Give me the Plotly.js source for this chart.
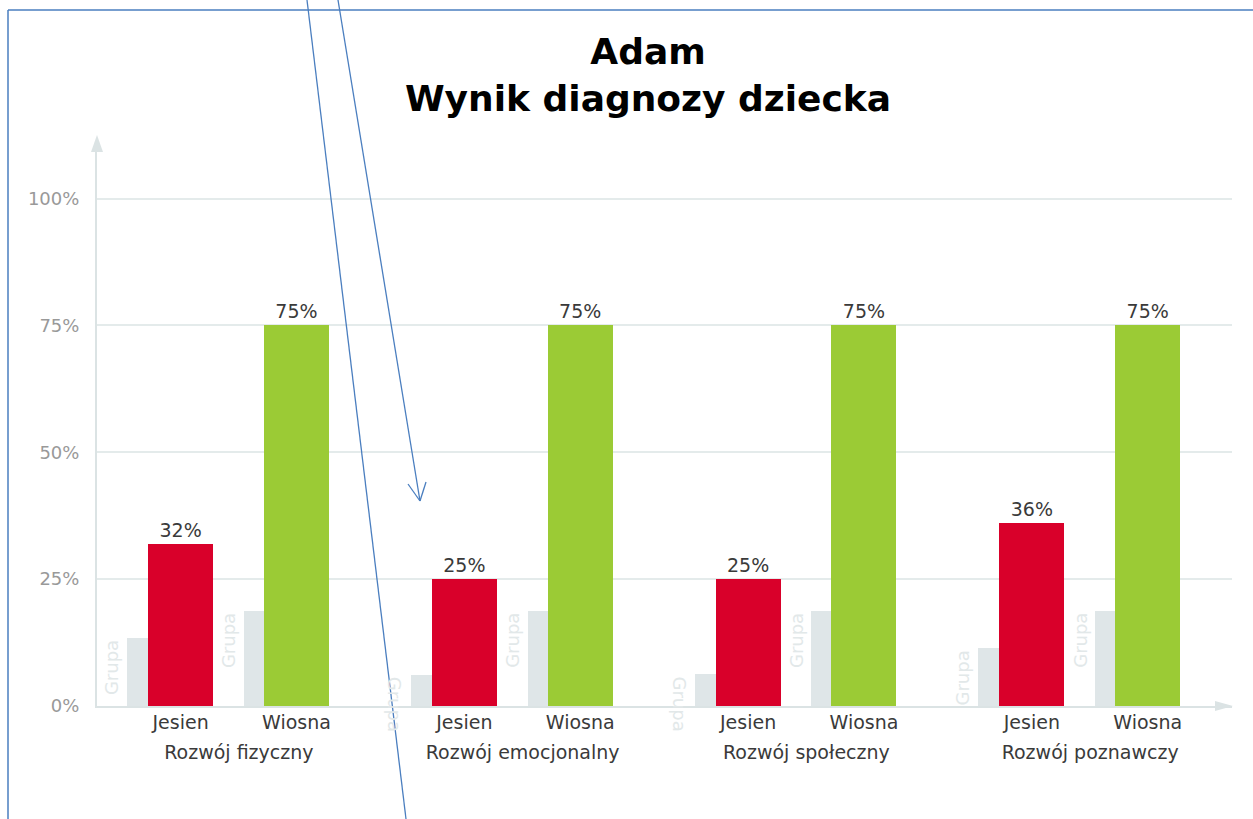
<!DOCTYPE html>
<html><head><meta charset="utf-8">
<script src="https://cdn.plot.ly/plotly-3.0.1.min.js"></script>
<style>html,body{margin:0;padding:0;background:#fff}#chart{width:1253px;height:819px}</style>
</head><body><div id="chart"></div>
<script>
// ---- data ----
const categories = ['Rozwój fizyczny', 'Rozwój emocjonalny', 'Rozwój społeczny', 'Rozwój poznawczy'];
const seasonLabels = ['Jesien', 'Wiosna'];
const jesien = [32, 25, 25, 36];
const wiosna = [75, 75, 75, 75];
const grupaJesien = [13.4, 6.2, 6.3, 11.4];
const grupaWiosna = [18.7, 18.7, 18.8, 18.8];
const yTickVals = [0, 25, 50, 75, 100];
const yTickText = ['0%', '25%', '50%', '75%', '100%'];
const grupaLabel = 'Grupa';
const titleLines = ['Adam', 'Wynik diagnozy dziecka'];

// ---- geometry / style ----
const W = 1253, H = 819, L = 97, R = 1232, T = 150, B = 706;
const pxPerPct = 5.075;
const FONT = 'DejaVu Sans, Verdana, sans-serif';
const off = {g1: -0.394, g1w: 0.074, red: -0.320, redw: 0.229, g2: 0.018, g2w: 0.070, green: 0.0885, greenw: 0.229};
const idx = categories.map((c, i) => i);
const px = x => (x - L) / (R - L);
const py = y => (B - y) / (B - T);

const COL = {red: '#d9002a', green: '#9bcb35', gray: '#dfe6e8', grupaText: '#e2e8e9', axis: '#dbe3e4', grid: '#e4ebeb', blue: '#4a7ebf', text: '#3a3a3a'};

const traces = [
  {type: 'bar', x: idx, y: grupaJesien, offset: off.g1, width: off.g1w, marker: {color: COL.gray}, hoverinfo: 'skip'},
  {type: 'bar', x: idx, y: jesien, offset: off.red, width: off.redw, marker: {color: COL.red},
   text: jesien.map(v => v + '%'), textposition: 'outside', cliponaxis: false,
   textfont: {family: FONT, size: 19, color: COL.text}},
  {type: 'bar', x: idx, y: grupaWiosna, offset: off.g2, width: off.g2w, marker: {color: COL.gray}, hoverinfo: 'skip'},
  {type: 'bar', x: idx, y: wiosna, offset: off.green, width: off.greenw, marker: {color: COL.green},
   text: wiosna.map(v => v + '%'), textposition: 'outside', cliponaxis: false,
   textfont: {family: FONT, size: 19, color: COL.text}}
];

// season tick positions (centres of the main bars)
const seasonVals = [], seasonText = [];
idx.forEach(i => {
  seasonVals.push(i + off.red + off.redw / 2); seasonText.push(seasonLabels[0]);
  seasonVals.push(i + off.green + off.greenw / 2); seasonText.push(seasonLabels[1]);
});
// invisible trace to activate xaxis2
traces.push({type: 'scatter', x: seasonVals, y: seasonVals.map(() => 0), xaxis: 'x2', mode: 'markers',
  marker: {opacity: 0}, hoverinfo: 'skip', showlegend: false});

// Grupa labels
const annotations = [];
function grupaAnn(x, v) {
  const small = v < 10;
  annotations.push({xref: 'x2', yref: 'y', x: x, y: v, text: grupaLabel, showarrow: false,
    textangle: small ? 90 : -90, xanchor: 'right', yanchor: 'top', xshift: -3,
    font: {family: FONT, size: 18, color: COL.grupaText}});
}
idx.forEach(i => { grupaAnn(i + off.g1, grupaJesien[i]); grupaAnn(i + off.g2, grupaWiosna[i]); });

const shapes = [
  // y-axis arrowhead
  {type: 'path', xref: 'paper', yref: 'paper', path: `M${px(91)},${py(152)} L${px(97)},${py(135)} L${px(103)},${py(152)} Z`,
   fillcolor: COL.axis, line: {width: 0}},
  // x-axis arrowhead
  {type: 'path', xref: 'paper', yref: 'paper', path: `M${px(1215)},${py(701)} L${px(1233)},${py(706)} L${px(1215)},${py(711)} Z`,
   fillcolor: COL.axis, line: {width: 0}},
  // frame
  {type: 'line', xref: 'paper', yref: 'paper', x0: px(8), y0: py(10), x1: px(1253), y1: py(10), line: {color: COL.blue, width: 1.5}},
  {type: 'line', xref: 'paper', yref: 'paper', x0: px(8), y0: py(10), x1: px(8), y1: py(819), line: {color: COL.blue, width: 1.5}},
  // drawn lines
  {type: 'line', xref: 'paper', yref: 'paper', x0: px(307), y0: py(0), x1: px(406), y1: py(819), line: {color: COL.blue, width: 1.3}},
  {type: 'line', xref: 'paper', yref: 'paper', x0: px(338), y0: py(0), x1: px(420), y1: py(501), line: {color: COL.blue, width: 1.3}},
  {type: 'line', xref: 'paper', yref: 'paper', x0: px(420), y0: py(501), x1: px(408), y1: py(484), line: {color: COL.blue, width: 1.3}},
  {type: 'line', xref: 'paper', yref: 'paper', x0: px(420), y0: py(501), x1: px(426), y1: py(482), line: {color: COL.blue, width: 1.3}}
];

const layout = {
  width: W, height: H,
  margin: {l: L, r: W - R, t: T, b: H - B},
  paper_bgcolor: '#fff', plot_bgcolor: '#fff',
  showlegend: false, hovermode: false,
  title: {text: titleLines.join('<br>'), font: {family: FONT, size: 36, color: '#000', weight: 700},
          xref: 'container', yref: 'container', x: 648 / W, xanchor: 'center', y: 1 - 64 / H, yanchor: 'top'},
  xaxis: {type: 'linear', range: [-0.5, 3.5], tickvals: idx, ticktext: categories, showgrid: false, zeroline: false,
          showline: true, linecolor: COL.axis, linewidth: 2, ticks: '', ticklabelstandoff: 28,
          tickfont: {family: FONT, size: 19, color: COL.text}, fixedrange: true},
  xaxis2: {overlaying: 'x', anchor: 'y', side: 'bottom', range: [-0.5, 3.5], tickvals: seasonVals, ticktext: seasonText,
           showgrid: false, zeroline: false, showline: false, ticks: '', ticklabelstandoff: 3,
           tickfont: {family: FONT, size: 19, color: COL.text}, fixedrange: true},
  yaxis: {range: [0, (B - T) / pxPerPct], tickvals: yTickVals, ticktext: yTickText, gridcolor: COL.grid, gridwidth: 2,
          showline: true, linecolor: COL.axis, linewidth: 2, zeroline: false, ticks: '', ticklabelstandoff: 12,
          tickfont: {family: FONT, size: 18, color: '#999'}, fixedrange: true},
  bargap: 0,
  annotations: annotations,
  shapes: shapes
};

Plotly.newPlot('chart', traces, layout, {displayModeBar: false, staticPlot: true});
</script></body></html>
